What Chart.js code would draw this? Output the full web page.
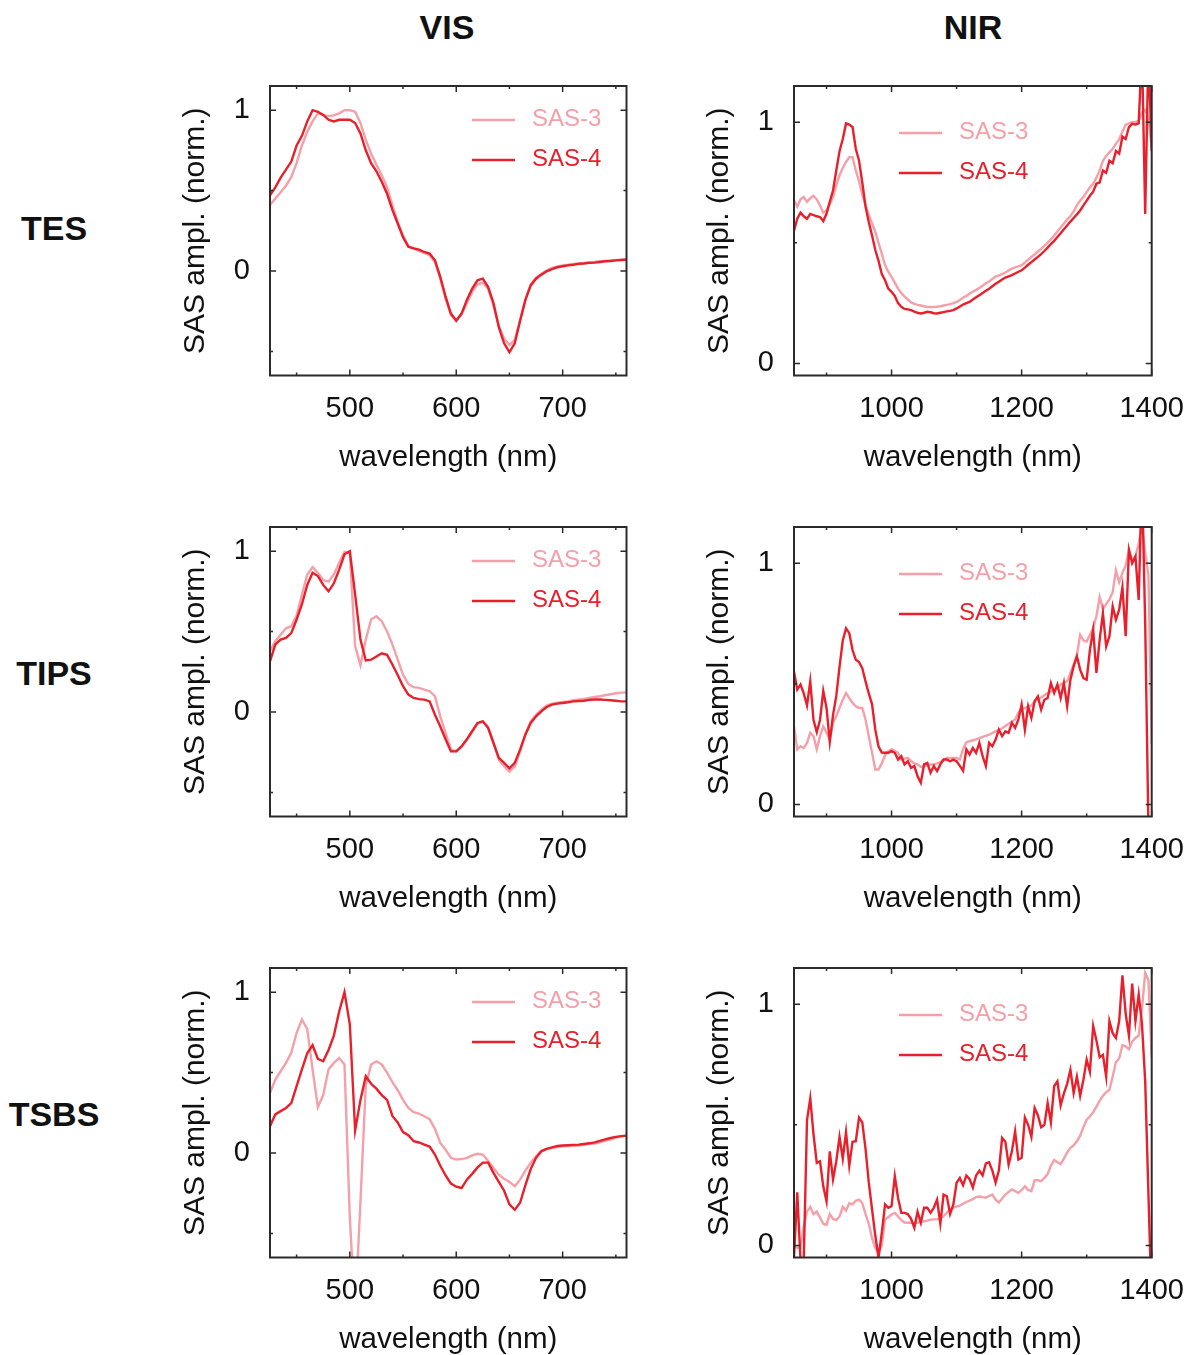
<!DOCTYPE html>
<html>
<head>
<meta charset="utf-8">
<title>SAS spectra</title>
<script src="https://cdn.jsdelivr.net/npm/chart.js@4.4.1/dist/chart.umd.min.js"></script>
<style>
  body { margin: 0; background: #fff; }
  #page { position: relative; width: 1190px; height: 1355px; overflow: hidden;
          font-family: "Liberation Sans", Arial, sans-serif; color: #111; }
  .lbl { position: absolute; transform: translate(-50%, -50%); font-weight: bold;
         font-size: 34px; white-space: nowrap; }
  canvas { position: absolute; }
</style>
</head>
<body>
<div id="page">
  <div class="lbl" style="left:447px; top:27px">VIS</div>
  <div class="lbl" style="left:973px; top:27px">NIR</div>
  <div class="lbl" style="left:54px; top:228px">TES</div>
  <div class="lbl" style="left:54px; top:673px">TIPS</div>
  <div class="lbl" style="left:54px; top:1114px">TSBS</div>

  <canvas id="tesVis"  width="470" height="406" style="left:170px; top:70px"></canvas>
  <canvas id="tesNir"  width="496" height="406" style="left:694px; top:70px"></canvas>
  <canvas id="tipsVis" width="470" height="406" style="left:170px; top:511px"></canvas>
  <canvas id="tipsNir" width="496" height="406" style="left:694px; top:511px"></canvas>
  <canvas id="tsbsVis" width="470" height="406" style="left:170px; top:952px"></canvas>
  <canvas id="tsbsNir" width="496" height="406" style="left:694px; top:952px"></canvas>
</div>

<script>
// ---------------------------------------------
// data (normalised SAS amplitude)
// ---------------------------------------------

const SERIES_NAMES = ["SAS-3", "SAS-4"];

// wavelength grids (nm)
const VIS_NM = [
  425, 430, 435, 440, 445, 450, 455, 460, 465, 470,
  475, 480, 485, 490, 495, 500, 505, 510, 515, 520,
  525, 530, 535, 540, 545, 550, 555, 560, 565, 570,
  575, 580, 585, 590, 595, 600, 605, 610, 615, 620,
  625, 630, 635, 640, 645, 650, 655, 660, 665, 670,
  675, 680, 685, 690, 695, 700, 705, 710, 715, 720,
  725, 730, 735, 740, 745, 750, 755, 760
];

const NIR_NM = [
  850, 855, 860, 865, 870, 875, 880, 885, 890, 895,
  900, 905, 910, 915, 920, 925, 930, 935, 940, 945,
  950, 955, 960, 965, 970, 975, 980, 985, 990, 995,
  1000, 1005, 1010, 1015, 1020, 1025, 1030, 1035, 1040, 1045,
  1050, 1055, 1060, 1065, 1070, 1075, 1080, 1085, 1090, 1095,
  1100, 1105, 1110, 1115, 1120, 1125, 1130, 1135, 1140, 1145,
  1150, 1155, 1160, 1165, 1170, 1175, 1180, 1185, 1190, 1195,
  1200, 1205, 1210, 1215, 1220, 1225, 1230, 1235, 1240, 1245,
  1250, 1255, 1260, 1265, 1270, 1275, 1280, 1285, 1290, 1295,
  1300, 1305, 1310, 1315, 1320, 1325, 1330, 1335, 1340, 1345,
  1350, 1355, 1360, 1365, 1370, 1375, 1380, 1385, 1390, 1395,
  1400
];

// TES
const TES_VIS_SAS3 = [
  0.41, 0.45, 0.49, 0.53, 0.585, 0.67, 0.78, 0.865, 0.93, 0.98,
  0.97, 0.963, 0.967, 0.98, 1.0, 1.0, 0.99, 0.92, 0.815, 0.73,
  0.66, 0.595, 0.52, 0.41, 0.305, 0.22, 0.155, 0.14, 0.125, 0.112,
  0.098, 0.056, -0.048, -0.172, -0.275, -0.307, -0.27, -0.2, -0.13, -0.083,
  -0.073, -0.11, -0.214, -0.34, -0.42, -0.46, -0.43, -0.307, -0.18, -0.083,
  -0.041, -0.017, 0.004, 0.019, 0.029, 0.035, 0.039, 0.044, 0.048, 0.05,
  0.054, 0.056, 0.06, 0.062, 0.066, 0.068, 0.07, 0.073
];
const TES_VIS_SAS4 = [
  0.47, 0.52, 0.58, 0.63, 0.68, 0.78, 0.84, 0.93, 1.0, 0.99,
  0.97, 0.94, 0.93, 0.94, 0.94, 0.94, 0.92, 0.855, 0.75, 0.67,
  0.62, 0.555, 0.48, 0.38, 0.295, 0.21, 0.15, 0.14, 0.133, 0.118,
  0.108, 0.066, -0.037, -0.16, -0.265, -0.31, -0.265, -0.18, -0.11, -0.058,
  -0.048, -0.1, -0.2, -0.35, -0.45, -0.505, -0.45, -0.31, -0.18, -0.09,
  -0.048, -0.023, -0.002, 0.012, 0.023, 0.029, 0.035, 0.039, 0.044, 0.046,
  0.05, 0.052, 0.056, 0.06, 0.062, 0.066, 0.068, 0.07
];
const TES_NIR_SAS3 = [
  0.676, 0.65, 0.68, 0.69, 0.67, 0.685, 0.695, 0.68, 0.655, 0.625,
  0.635, 0.66, 0.69, 0.74, 0.78, 0.81, 0.835, 0.855, 0.855, 0.80,
  0.755, 0.70, 0.655, 0.615, 0.58, 0.545, 0.50, 0.455, 0.407, 0.38,
  0.359, 0.335, 0.31, 0.292, 0.277, 0.265, 0.253, 0.247, 0.243, 0.24,
  0.237, 0.234, 0.234, 0.234, 0.235, 0.237, 0.24, 0.243, 0.246, 0.25,
  0.255, 0.263, 0.272, 0.28, 0.29, 0.297, 0.305, 0.313, 0.322, 0.332,
  0.34, 0.35, 0.36, 0.365, 0.37, 0.377, 0.385, 0.393, 0.398, 0.402,
  0.407, 0.418, 0.43, 0.441, 0.452, 0.464, 0.475, 0.488, 0.50, 0.515,
  0.53, 0.547, 0.563, 0.58, 0.597, 0.61, 0.63, 0.655, 0.675, 0.69,
  0.71, 0.73, 0.745, 0.77, 0.80, 0.84, 0.86, 0.875, 0.89, 0.91,
  0.93, 0.96, 0.99, 0.995, 1.0, 1.0, 1.005, 1.04, 1.05, 1.02,
  0.89
];
const TES_NIR_SAS4 = [
  0.55, 0.60, 0.625, 0.61, 0.60, 0.62, 0.615, 0.61, 0.607, 0.59,
  0.62, 0.67, 0.717, 0.80, 0.88, 0.93, 0.995, 0.99, 0.98, 0.89,
  0.84, 0.75, 0.65, 0.585, 0.53, 0.47, 0.425, 0.37, 0.345, 0.31,
  0.297, 0.28, 0.25, 0.235, 0.226, 0.224, 0.221, 0.215, 0.21, 0.207,
  0.21, 0.214, 0.212, 0.208, 0.207, 0.21, 0.213, 0.216, 0.218, 0.221,
  0.228, 0.236, 0.244, 0.25, 0.255, 0.265, 0.274, 0.283, 0.292, 0.301,
  0.31, 0.32, 0.33, 0.339, 0.348, 0.356, 0.361, 0.366, 0.373, 0.38,
  0.386, 0.397, 0.409, 0.42, 0.431, 0.442, 0.453, 0.466, 0.48, 0.495,
  0.508, 0.524, 0.54, 0.556, 0.572, 0.588, 0.603, 0.618, 0.634, 0.655,
  0.675, 0.695, 0.712, 0.745, 0.75, 0.80, 0.79, 0.84, 0.83, 0.88,
  0.87, 0.94, 0.93, 0.98, 0.993, 0.99, 0.995, 1.3, 0.62, 1.3,
  0.88
];

// TIPS
const TIPS_VIS_SAS3 = [
  0.378, 0.44, 0.48, 0.52, 0.533, 0.6, 0.73, 0.855, 0.9, 0.865,
  0.82, 0.81, 0.855, 0.927, 0.995, 0.99, 0.41, 0.29, 0.45, 0.575,
  0.595, 0.564, 0.5, 0.42, 0.326, 0.232, 0.174, 0.154, 0.15, 0.139,
  0.129, 0.098, -0.027, -0.13, -0.234, -0.245, -0.214, -0.172, -0.12, -0.073,
  -0.058, -0.093, -0.19, -0.297, -0.338, -0.37, -0.338, -0.245, -0.14, -0.058,
  -0.017, 0.015, 0.04, 0.052, 0.058, 0.062, 0.066, 0.073, 0.077, 0.081,
  0.087, 0.093, 0.098, 0.104, 0.11, 0.116, 0.12, 0.122
];
const TIPS_VIS_SAS4 = [
  0.315, 0.42, 0.45, 0.46, 0.49, 0.575, 0.67, 0.79, 0.865, 0.845,
  0.79, 0.75, 0.8, 0.885, 0.98, 1.0, 0.73, 0.45, 0.32, 0.325,
  0.345, 0.365, 0.355, 0.295, 0.23, 0.16, 0.108, 0.087, 0.08, 0.077,
  0.066, -0.017, -0.09, -0.17, -0.245, -0.245, -0.214, -0.17, -0.12, -0.068,
  -0.058, -0.1, -0.193, -0.285, -0.317, -0.35, -0.317, -0.234, -0.14, -0.068,
  -0.027, 0.004, 0.031, 0.046, 0.052, 0.056, 0.06, 0.066, 0.068, 0.07,
  0.075, 0.077, 0.077, 0.075, 0.073, 0.07, 0.066, 0.066
];
const TIPS_NIR_SAS3 = [
  0.324, 0.228, 0.241, 0.234, 0.255, 0.297, 0.283, 0.228, 0.283, 0.324,
  0.297, 0.269, 0.338, 0.366, 0.40, 0.434, 0.462, 0.441, 0.421, 0.407,
  0.40, 0.40, 0.352, 0.283, 0.214, 0.145, 0.145, 0.17, 0.205, 0.221,
  0.228, 0.222, 0.214, 0.186, 0.19, 0.193, 0.18, 0.17, 0.166, 0.155,
  0.159, 0.162, 0.166, 0.166, 0.17, 0.175, 0.185, 0.193, 0.193, 0.193,
  0.193, 0.186, 0.23, 0.258, 0.262, 0.266, 0.27, 0.275, 0.28, 0.284,
  0.289, 0.296, 0.304, 0.309, 0.316, 0.325, 0.334, 0.343, 0.352, 0.38,
  0.395, 0.40, 0.405, 0.41, 0.427, 0.435, 0.443, 0.453, 0.462, 0.469,
  0.475, 0.48, 0.497, 0.505, 0.51, 0.545, 0.58, 0.62, 0.703, 0.68,
  0.675, 0.703, 0.73, 0.78, 0.86, 0.81, 0.83, 0.85, 0.88, 0.97,
  0.92, 0.96, 0.99, 1.055, 1.01, 1.03, 1.08, 1.16, 1.04, 0.95,
  0.25
];
const TIPS_NIR_SAS4 = [
  0.55, 0.476, 0.497, 0.46, 0.41, 0.51, 0.35, 0.30, 0.35, 0.47,
  0.40, 0.26, 0.37, 0.45, 0.57, 0.68, 0.73, 0.71, 0.64, 0.60,
  0.59, 0.565, 0.51, 0.46, 0.415, 0.31, 0.24, 0.215, 0.214, 0.214,
  0.221, 0.214, 0.186, 0.2, 0.166, 0.179, 0.152, 0.159, 0.117, 0.09,
  0.166, 0.172, 0.131, 0.159, 0.138, 0.166, 0.186, 0.186, 0.179, 0.186,
  0.179, 0.16, 0.14, 0.228, 0.207, 0.234, 0.214, 0.255, 0.2, 0.159,
  0.255, 0.241, 0.269, 0.31, 0.283, 0.303, 0.297, 0.338, 0.317, 0.352,
  0.414, 0.31, 0.407, 0.359, 0.428, 0.448, 0.393, 0.434, 0.441, 0.503,
  0.462, 0.497, 0.441, 0.503, 0.407, 0.517, 0.572, 0.614, 0.559, 0.524,
  0.517, 0.641, 0.724, 0.545, 0.683, 0.793, 0.655, 0.697, 0.821, 0.766,
  0.807, 0.90, 0.697, 1.055, 1.0, 1.028, 0.848, 1.35, 0.75, -0.1,
  -0.3
];

// TSBS
const TSBS_VIS_SAS3 = [
  0.373, 0.456, 0.508, 0.56, 0.622, 0.747, 0.83, 0.77, 0.52, 0.285,
  0.36, 0.52, 0.56, 0.59, 0.55, -0.4, -1.0, -0.3, 0.42, 0.55,
  0.57, 0.55, 0.5, 0.44, 0.39, 0.33, 0.28, 0.253, 0.245, 0.228,
  0.21, 0.15, 0.062, 0.02, -0.03, -0.041, -0.038, -0.031, -0.015, -0.005,
  -0.01, -0.05, -0.093, -0.135, -0.16, -0.18, -0.207, -0.166, -0.11, -0.06,
  -0.02, 0.015, 0.025, 0.031, 0.036, 0.041, 0.043, 0.045, 0.046, 0.05,
  0.055, 0.058, 0.066, 0.075, 0.085, 0.095, 0.102, 0.108
];
const TSBS_VIS_SAS4 = [
  0.166, 0.24, 0.26, 0.28, 0.31, 0.415, 0.52, 0.62, 0.67, 0.585,
  0.57, 0.64, 0.73, 0.88, 1.0, 0.8, 0.14, 0.33, 0.477, 0.43,
  0.4, 0.36, 0.33, 0.23, 0.19, 0.13, 0.11, 0.073, 0.065, 0.052,
  0.04, -0.01, -0.08, -0.14, -0.19, -0.21, -0.218, -0.166, -0.13, -0.09,
  -0.06, -0.06, -0.124, -0.18, -0.235, -0.32, -0.353, -0.31, -0.2, -0.1,
  -0.03, 0.01, 0.025, 0.035, 0.043, 0.046, 0.048, 0.05, 0.052, 0.056,
  0.06, 0.066, 0.075, 0.085, 0.093, 0.1, 0.105, 0.108
];
const TSBS_NIR_SAS3 = [
  0.0, -0.01, -0.01, 0.08, 0.14, 0.16, 0.13, 0.14, 0.115, 0.09,
  0.085, 0.13, 0.11, 0.105, 0.12, 0.16, 0.145, 0.175, 0.17, 0.185,
  0.19, 0.175, 0.13, 0.09, 0.03, -0.01, -0.03, 0.0, 0.108, 0.117,
  0.128, 0.135, 0.12, 0.105, 0.095, 0.094, 0.094, 0.094, 0.094, 0.097,
  0.1, 0.103, 0.107, 0.108, 0.108, 0.112, 0.122, 0.135, 0.15, 0.157,
  0.161, 0.165, 0.173, 0.18, 0.186, 0.192, 0.2, 0.203, 0.2, 0.198,
  0.205, 0.211, 0.19, 0.178, 0.195, 0.211, 0.222, 0.232, 0.225, 0.218,
  0.23, 0.245, 0.23, 0.225, 0.27, 0.27, 0.266, 0.28, 0.296, 0.33,
  0.354, 0.345, 0.337, 0.36, 0.386, 0.405, 0.415, 0.432, 0.455, 0.49,
  0.521, 0.535, 0.552, 0.575, 0.60, 0.62, 0.635, 0.645, 0.70, 0.76,
  0.775, 0.83, 0.825, 0.813, 0.845, 0.86, 0.87, 0.98, 1.13, 1.1,
  0.78
];
const TSBS_NIR_SAS4 = [
  -0.05, 0.22, -0.06, -0.06, 0.52, 0.61, 0.46, 0.342, 0.349, 0.245,
  0.183, 0.39, 0.273, 0.349, 0.45, 0.36, 0.47, 0.33, 0.43, 0.432,
  0.53, 0.51, 0.40, 0.26, 0.15, 0.04, -0.05, 0.052, 0.17, 0.156,
  0.163, 0.287, 0.197, 0.135, 0.135, 0.13, 0.11, 0.073, 0.14, 0.094,
  0.156, 0.156, 0.135, 0.156, 0.19, 0.09, 0.211, 0.204, 0.13, 0.17,
  0.26, 0.28, 0.25, 0.29, 0.275, 0.24, 0.29, 0.31, 0.29, 0.34,
  0.345, 0.31, 0.26, 0.31, 0.446, 0.43, 0.335, 0.39, 0.473, 0.356,
  0.363, 0.53, 0.50, 0.45, 0.57, 0.54, 0.49, 0.50, 0.59, 0.51,
  0.66, 0.68, 0.58, 0.63, 0.67, 0.728, 0.632, 0.70, 0.62, 0.687,
  0.77, 0.72, 0.91, 0.85, 0.78, 0.79, 0.70, 0.93, 0.88, 0.86,
  0.93, 1.12, 0.96, 0.87, 1.085, 0.93, 1.04, 0.92, 0.68, 0.21,
  -0.25
];

// ticks
const VIS_X_TICKS  = [450, 500, 550, 600, 650, 700, 750];
const VIS_X_LABELS = [500, 600, 700];
const VIS_Y_TICKS  = [-0.5, 0, 0.5, 1];
const NIR_X_TICKS  = [900, 1000, 1100, 1200, 1300, 1400];
const NIR_X_LABELS = [1000, 1200, 1400];
const NIR_Y_TICKS  = [0, 0.5, 1];
const Y_LABELS     = [0, 1];

// ---------------------------------------------
// styles
// ---------------------------------------------

const FONT   = "'Liberation Sans', Arial, sans-serif";
const INK    = "#111111";
const FRAME  = "#2b2b2b";
const COLORS = ["#F5A0A8", "#E8202B"];

// frame + inward ticks on all four sides
const frameTicks = {
  id: "frameTicks",
  afterDatasetsDraw(chart) {
    const { ctx, chartArea: a, scales: { x, y } } = chart;
    ctx.save();
    ctx.strokeStyle = FRAME;
    ctx.lineWidth = 1.5;
    ctx.beginPath();
    x.ticks.forEach(t => {
      const px = x.getPixelForValue(t.value);
      const len = t.label ? 6 : 3;
      ctx.moveTo(px, a.bottom); ctx.lineTo(px, a.bottom - len);
      ctx.moveTo(px, a.top);    ctx.lineTo(px, a.top + len);
    });
    y.ticks.forEach(t => {
      const py = y.getPixelForValue(t.value);
      const len = t.label ? 6 : 3;
      ctx.moveTo(a.left, py);  ctx.lineTo(a.left + len, py);
      ctx.moveTo(a.right, py); ctx.lineTo(a.right - len, py);
    });
    ctx.stroke();
    ctx.lineWidth = 2;
    ctx.strokeRect(a.left, a.top, a.right - a.left, a.bottom - a.top);
    ctx.restore();
  }
};

// legend drawn inside the plot box
const insideLegend = {
  id: "insideLegend",
  afterDraw(chart, args, opts) {
    const { ctx, chartArea: a } = chart;
    ctx.save();
    ctx.font = "24px " + FONT;
    ctx.textBaseline = "middle";
    ctx.textAlign = "left";
    chart.data.datasets.forEach((ds, i) => {
      const yy = a.top + opts.y + i * opts.rowGap;
      const x0 = a.left + opts.x;
      ctx.strokeStyle = ds.borderColor;
      ctx.lineWidth = 2.5;
      ctx.beginPath();
      ctx.moveTo(x0, yy);
      ctx.lineTo(x0 + 43, yy);
      ctx.stroke();
      ctx.fillStyle = ds.borderColor;
      ctx.fillText(ds.label, x0 + 60, yy - 1);
    });
    ctx.restore();
  }
};

function makePanel(id, xs, sas3, sas4, p) {

  const datasets = [sas3, sas4].map((vals, i) => ({
    label:       SERIES_NAMES[i],
    data:        xs.map((x, k) => ({ x, y: vals[k] })),
    borderColor: COLORS[i],
    borderWidth: 2.4,
    pointRadius: 0,
    tension:     0,
    order:       1 - i
  }));

  const tickFont = { family: FONT, size: 29 };

  new Chart(document.getElementById(id), {
    type: "line",
    data: { datasets },
    options: {
      responsive: false,
      animation:  false,
      events:     [],
      layout: { padding: { top: 16, right: p.padRight, bottom: 0, left: 0 } },
      plugins: {
        legend:  { display: false },
        tooltip: { enabled: false },
        insideLegend: { x: p.legendX, y: p.legendY, rowGap: 40 }
      },
      scales: {
        x: {
          type: "linear",
          min:  p.xMin,
          max:  p.xMax,
          afterBuildTicks: s => { s.ticks = p.xTicks.map(v => ({ value: v })); },
          afterFit: s => { s.height = 100.5; s.paddingLeft = 0; s.paddingRight = 0; },
          grid:   { display: false, drawTicks: false },
          border: { display: false },
          ticks: {
            autoSkip: false, maxRotation: 0, padding: 16,
            font: tickFont, color: INK,
            callback: v => p.xLabels.includes(v) ? String(v) : ""
          },
          title: {
            display: true, text: "wavelength (nm)",
            font: { family: FONT, size: 29.5 }, color: INK, padding: { top: 0, bottom: 0 }
          }
        },
        y: {
          min: p.yMin,
          max: p.yMax,
          afterBuildTicks: s => { s.ticks = p.yTicks.map(v => ({ value: v })); },
          afterFit: s => { s.width = p.yWidth; s.paddingTop = 0; s.paddingBottom = 0; },
          grid:   { display: false, drawTicks: false },
          border: { display: false },
          ticks: {
            autoSkip: false, padding: 20,
            font: tickFont, color: INK,
            callback: v => Y_LABELS.includes(v) ? String(v) : ""
          },
          title: {
            display: true, text: "SAS ampl. (norm.)",
            font: { family: FONT, size: 30 }, color: INK, padding: { top: 8, bottom: 0 }
          }
        }
      }
    },
    plugins: [frameTicks, insideLegend]
  });
}

const VIS = {
  xMin: 425, xMax: 760, yMin: -0.65, yMax: 1.15,
  xTicks: VIS_X_TICKS, xLabels: VIS_X_LABELS, yTicks: VIS_Y_TICKS,
  yWidth: 100, padRight: 13.5, legendX: 202, legendY: 34
};
const NIR = {
  xMin: 850, xMax: 1400, yMin: -0.05, yMax: 1.15,
  xTicks: NIR_X_TICKS, xLabels: NIR_X_LABELS, yTicks: NIR_Y_TICKS,
  yWidth: 100, padRight: 38.3, legendX: 105, legendY: 47
};

makePanel("tesVis",  VIS_NM, TES_VIS_SAS3,  TES_VIS_SAS4,  VIS);
makePanel("tesNir",  NIR_NM, TES_NIR_SAS3,  TES_NIR_SAS4,  NIR);
makePanel("tipsVis", VIS_NM, TIPS_VIS_SAS3, TIPS_VIS_SAS4, VIS);
makePanel("tipsNir", NIR_NM, TIPS_NIR_SAS3, TIPS_NIR_SAS4, NIR);
makePanel("tsbsVis", VIS_NM, TSBS_VIS_SAS3, TSBS_VIS_SAS4, VIS);
makePanel("tsbsNir", NIR_NM, TSBS_NIR_SAS3, TSBS_NIR_SAS4, NIR);
</script>
</body>
</html>
